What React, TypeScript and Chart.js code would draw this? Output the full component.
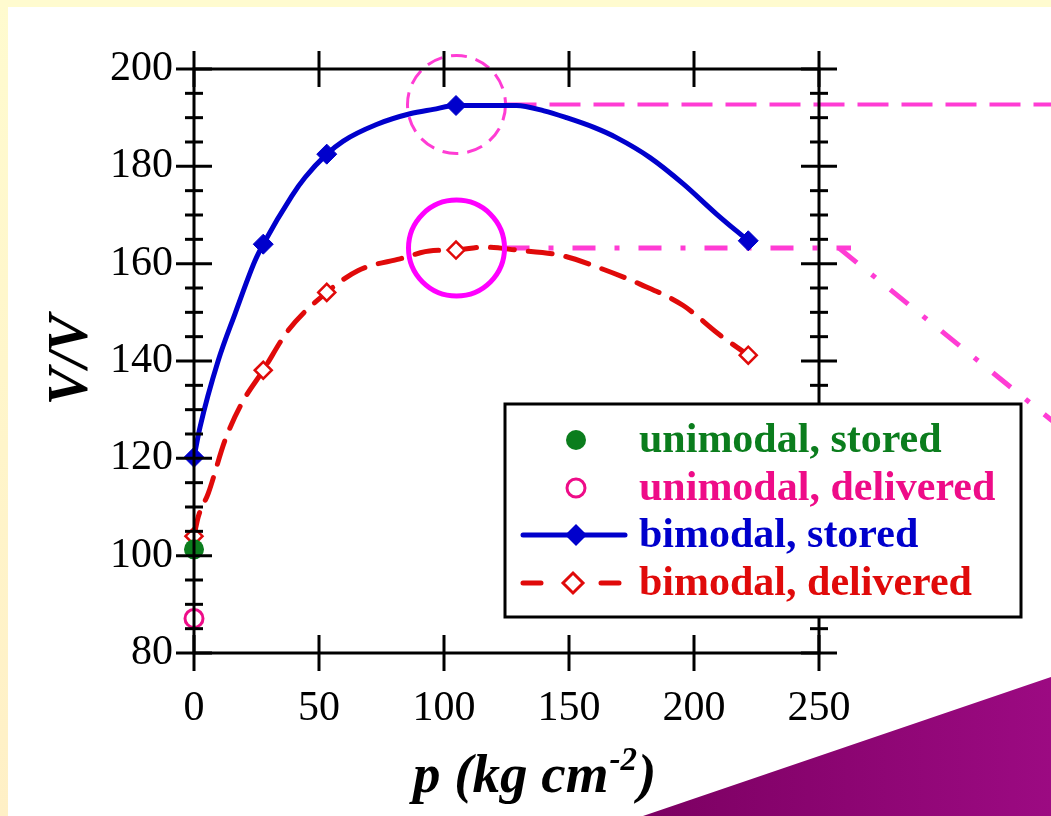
import { useEffect, useRef } from "react";
import { Chart, registerables } from "chart.js";

Chart.register(...registerables);

// ---- data ----
const xTickValues = [0, 50, 100, 150, 200, 250];
const yTickValues = [80, 100, 120, 140, 160, 180, 200];
const yMinorStep = 5;

const uniStoredP = [0];
const uniStoredV = [101.3];

const uniDeliveredP = [0];
const uniDeliveredV = [87.1];

const biStoredP = [0, 2.4, 9.7, 16.4, 24.4, 27.7, 39.1, 44.4, 53.1, 59.7, 73, 86.4, 95.7, 104.8, 129, 140, 149, 160, 169, 182.4, 195.7, 209, 221.7];
const biStoredV = [120.2, 126.4, 140.1, 149.7, 160.6, 164.0, 173.9, 177.7, 182.5, 185.2, 188.6, 190.8, 191.7, 192.5, 192.5, 191.4, 190.0, 188.0, 185.9, 181.8, 176.4, 170.2, 164.7];
const biStoredMarked = [0, 5, 8, 13, 22];

const biDeliveredP = [0, 1.7, 5.7, 12.4, 19, 27.7, 37.7, 53.1, 65.7, 82.4, 95.7, 104.8, 115.7, 129, 147.7, 159.7, 178.4, 195.7, 209.7, 221.7];
const biDeliveredV = [104.0, 108, 112.8, 123.7, 131.2, 138.1, 146.3, 154.1, 158.6, 161, 162.7, 162.8, 163.4, 162.8, 161.6, 159.6, 155.8, 151.4, 145.6, 141.2];
const biDeliveredMarked = [0, 5, 7, 11, 19];

// annotation anchors (data units)
const peakP = 105;
const storedPeakV = 192.7;
const deliveredPeakV = 163.2;
const diagStartP = 258;
const diagEndP = 345;
const diagEndV = 127;

const legendLabels = ["unimodal, stored", "unimodal, delivered", "bimodal, stored", "bimodal, delivered"];

// ---- styles ----
const GREEN = "#0b7d1d";
const PINK = "#ee0c88";
const BLUE = "#0000cc";
const RED = "#e00a0a";
const MAGENTA_DASH = "#ff3cd4";
const MAGENTA = "#ff00ff";
const SERIF = '"Liberation Serif", "Times New Roman", serif';

const pts = (xs: number[], ys: number[]) => xs.map((x, i) => ({ x, y: ys[i] }));

const backgroundPlugin = {
  id: "slideBackground",
  beforeDraw(chart: any) {
    const { ctx, width, height } = chart;
    ctx.save();
    ctx.fillStyle = "#ffffff";
    ctx.fillRect(0, 0, width, height);
    const g = ctx.createLinearGradient(0, 0, 0, height);
    g.addColorStop(0, "#fffbcf");
    g.addColorStop(1, "#fff0c6");
    ctx.fillStyle = g;
    ctx.fillRect(0, 0, 8, height);
    ctx.fillStyle = "#fffbcf";
    ctx.fillRect(0, 0, width, 7);
    // purple corner
    const pg = ctx.createLinearGradient(643, 0, width, 0);
    pg.addColorStop(0, "#7c0062");
    pg.addColorStop(1, "#9c0a82");
    ctx.fillStyle = pg;
    ctx.beginPath();
    ctx.moveTo(643, height);
    ctx.lineTo(width, 677);
    ctx.lineTo(width, height);
    ctx.closePath();
    ctx.fill();
    ctx.restore();
  },
};

const annotationPlugin = {
  id: "magentaNotes",
  beforeDatasetsDraw(chart: any) {
    const { ctx, width } = chart;
    const xs = chart.scales.x;
    const ys = chart.scales.y;
    const cx = xs.getPixelForValue(peakP);
    const cyTop = ys.getPixelForValue(storedPeakV);
    const cyBot = ys.getPixelForValue(deliveredPeakV);
    ctx.save();
    // dashed circle around stored peak
    ctx.strokeStyle = MAGENTA_DASH;
    ctx.lineWidth = 3;
    ctx.setLineDash([16, 9]);
    ctx.beginPath();
    ctx.arc(cx, cyTop, 49, 0, Math.PI * 2);
    ctx.stroke();
    // dashed line to the right
    ctx.lineWidth = 4;
    ctx.setLineDash([31, 13]);
    ctx.beginPath();
    ctx.moveTo(cx + 49, cyTop);
    ctx.lineTo(width, cyTop);
    ctx.stroke();
    // dash-dot line from delivered peak
    ctx.lineWidth = 5;
    ctx.setLineDash([23, 19, 5, 19]);
    ctx.beginPath();
    ctx.moveTo(cx + 50, cyBot);
    ctx.lineTo(xs.getPixelForValue(diagStartP) + 12, cyBot);
    ctx.stroke();
    ctx.beginPath();
    ctx.moveTo(xs.getPixelForValue(diagStartP), cyBot);
    ctx.lineTo(xs.getPixelForValue(diagEndP), ys.getPixelForValue(diagEndV));
    ctx.stroke();
    ctx.restore();
  },
  afterDatasetsDraw(chart: any) {
    const { ctx } = chart;
    const xs = chart.scales.x;
    const ys = chart.scales.y;
    ctx.save();
    ctx.strokeStyle = MAGENTA;
    ctx.lineWidth = 5;
    ctx.beginPath();
    ctx.arc(xs.getPixelForValue(peakP), ys.getPixelForValue(deliveredPeakV), 48, 0, Math.PI * 2);
    ctx.stroke();
    ctx.restore();
  },
};

const framePlugin = {
  id: "frameTicks",
  afterDatasetsDraw(chart: any) {
    const { ctx, chartArea: ca } = chart;
    const xs = chart.scales.x;
    const ys = chart.scales.y;
    const line = (x1: number, y1: number, x2: number, y2: number) => {
      ctx.beginPath();
      ctx.moveTo(x1, y1);
      ctx.lineTo(x2, y2);
      ctx.stroke();
    };
    ctx.save();
    ctx.strokeStyle = "#000";
    ctx.lineWidth = 3;
    ctx.lineCap = "butt";
    ctx.strokeRect(ca.left, ca.top, ca.right - ca.left, ca.bottom - ca.top);
    const major = 18;
    const minor = 9;
    xTickValues.forEach((v) => {
      const px = xs.getPixelForValue(v);
      line(px, ca.top - major, px, ca.top + major);
      line(px, ca.bottom - major, px, ca.bottom + major);
    });
    yTickValues.forEach((v) => {
      const py = ys.getPixelForValue(v);
      line(ca.left - major, py, ca.left + major, py);
      line(ca.right - major, py, ca.right + major, py);
    });
    const yMin = yTickValues[0];
    const yMax = yTickValues[yTickValues.length - 1];
    for (let v = yMin + yMinorStep; v < yMax; v += yMinorStep) {
      if (yTickValues.includes(v)) continue;
      const py = ys.getPixelForValue(v);
      line(ca.left - minor, py, ca.left + minor, py);
      line(ca.right - minor, py, ca.right + minor, py);
    }
    ctx.restore();
  },
  afterDraw(chart: any) {
    const { ctx } = chart;
    ctx.save();
    // axis titles
    ctx.fillStyle = "#000";
    ctx.textBaseline = "alphabetic";
    ctx.textAlign = "left";
    ctx.font = `italic bold 55px ${SERIF}`;
    let x = 413;
    const base = 792;
    const part1 = "p (kg cm";
    ctx.fillText(part1, x, base);
    x += ctx.measureText(part1).width;
    ctx.font = `italic bold 33px ${SERIF}`;
    ctx.fillText("-2", x + 1, base - 22);
    x += ctx.measureText("-2").width + 2;
    ctx.font = `italic bold 55px ${SERIF}`;
    ctx.fillText(")", x, base);

    ctx.save();
    ctx.translate(87, 360);
    ctx.rotate(-Math.PI / 2);
    ctx.textAlign = "center";
    ctx.font = `italic bold 56px ${SERIF}`;
    ctx.fillText("V/V", 0, 0);
    ctx.restore();

    // legend
    const L = 505, T = 404, R = 1021, B = 617;
    ctx.fillStyle = "#fff";
    ctx.fillRect(L, T, R - L, B - T);
    ctx.strokeStyle = "#000";
    ctx.lineWidth = 3;
    ctx.strokeRect(L, T, R - L, B - T);
    const rows = [440, 488, 535, 583];
    const colors = [GREEN, PINK, BLUE, RED];
    const mx = 576;
    // row 1 filled circle
    ctx.fillStyle = GREEN;
    ctx.beginPath();
    ctx.arc(mx, rows[0], 10, 0, Math.PI * 2);
    ctx.fill();
    // row 2 hollow circle
    ctx.strokeStyle = PINK;
    ctx.lineWidth = 3;
    ctx.beginPath();
    ctx.arc(mx, rows[1], 9, 0, Math.PI * 2);
    ctx.stroke();
    // row 3 solid line + filled diamond
    ctx.strokeStyle = BLUE;
    ctx.lineWidth = 5;
    ctx.lineCap = "round";
    ctx.beginPath();
    ctx.moveTo(523, rows[2]);
    ctx.lineTo(625, rows[2]);
    ctx.stroke();
    ctx.fillStyle = BLUE;
    ctx.beginPath();
    ctx.moveTo(mx, rows[2] - 11);
    ctx.lineTo(mx + 11, rows[2]);
    ctx.lineTo(mx, rows[2] + 11);
    ctx.lineTo(mx - 11, rows[2]);
    ctx.closePath();
    ctx.fill();
    // row 4 dashed line + hollow diamond
    ctx.strokeStyle = RED;
    ctx.beginPath();
    ctx.moveTo(523, rows[3]);
    ctx.lineTo(541, rows[3]);
    ctx.moveTo(601, rows[3]);
    ctx.lineTo(619, rows[3]);
    ctx.stroke();
    ctx.lineWidth = 3;
    ctx.lineCap = "butt";
    ctx.fillStyle = "#fff";
    ctx.beginPath();
    ctx.moveTo(mx - 3, rows[3] - 10);
    ctx.lineTo(mx - 3 + 10, rows[3]);
    ctx.lineTo(mx - 3, rows[3] + 10);
    ctx.lineTo(mx - 3 - 10, rows[3]);
    ctx.closePath();
    ctx.fill();
    ctx.stroke();
    // texts
    ctx.font = `bold 42px ${SERIF}`;
    ctx.textAlign = "left";
    ctx.textBaseline = "alphabetic";
    legendLabels.forEach((t, i) => {
      ctx.fillStyle = colors[i];
      ctx.fillText(t, 639, rows[i] + 12);
    });
    ctx.restore();
  },
};

export default function App() {
  const ref = useRef<HTMLCanvasElement | null>(null);

  useEffect(() => {
    const canvas = ref.current;
    if (!canvas) return;
    const chart = new Chart(canvas, {
      type: "line",
      data: {
        datasets: [
          {
            label: legendLabels[0],
            data: pts(uniStoredP, uniStoredV),
            showLine: false,
            pointStyle: "circle",
            pointRadius: 10,
            pointBackgroundColor: GREEN,
            pointBorderColor: GREEN,
            pointBorderWidth: 0,
            clip: false,
          } as any,
          {
            label: legendLabels[1],
            data: pts(uniDeliveredP, uniDeliveredV),
            showLine: false,
            pointStyle: "circle",
            pointRadius: 9,
            pointBackgroundColor: "rgba(255,255,255,0)",
            pointBorderColor: PINK,
            pointBorderWidth: 3,
            clip: false,
          } as any,
          {
            label: legendLabels[2],
            data: pts(biStoredP, biStoredV),
            borderColor: BLUE,
            borderWidth: 5,
            cubicInterpolationMode: "monotone",
            borderJoinStyle: "round",
            pointStyle: "rectRot",
            pointRadius: (c: any) => (biStoredMarked.includes(c.dataIndex) ? 10 : 0),
            pointBackgroundColor: BLUE,
            pointBorderColor: BLUE,
            pointBorderWidth: 1,
            clip: false,
          } as any,
          {
            label: legendLabels[3],
            data: pts(biDeliveredP, biDeliveredV),
            borderColor: RED,
            borderWidth: 5,
            borderDash: [24, 14],
            borderCapStyle: "round",
            cubicInterpolationMode: "monotone",
            pointStyle: "rectRot",
            pointRadius: (c: any) => (biDeliveredMarked.includes(c.dataIndex) ? 8.5 : 0),
            pointBackgroundColor: "#ffffff",
            pointBorderColor: RED,
            pointBorderWidth: 2.5,
            clip: false,
          } as any,
        ],
      },
      options: {
        animation: false,
        responsive: false,
        devicePixelRatio: 1,
        events: [],
        layout: { padding: { left: 0, top: 69, right: 232, bottom: 0 } },
        plugins: { legend: { display: false }, tooltip: { enabled: false } },
        scales: {
          x: {
            type: "linear",
            min: xTickValues[0],
            max: xTickValues[xTickValues.length - 1],
            afterBuildTicks: (s: any) => {
              s.ticks = xTickValues.map((v) => ({ value: v }));
            },
            afterFit: (s: any) => {
              s.height = 163;
            },
            grid: { display: false, drawTicks: true, tickLength: 18 },
            border: { display: false },
            ticks: {
              color: "#000",
              padding: 13,
              maxRotation: 0,
              font: { family: SERIF, size: 42 },
            },
          },
          y: {
            type: "linear",
            min: yTickValues[0],
            max: yTickValues[yTickValues.length - 1],
            afterBuildTicks: (s: any) => {
              s.ticks = yTickValues.map((v) => ({ value: v }));
            },
            afterFit: (s: any) => {
              s.width = 194;
            },
            grid: { display: false, drawTicks: true, tickLength: 18 },
            border: { display: false },
            ticks: {
              color: "#000",
              padding: 3,
              font: { family: SERIF, size: 42 },
            },
          },
        },
      } as any,
      plugins: [backgroundPlugin, annotationPlugin, framePlugin],
    });
    return () => chart.destroy();
  }, []);

  return (
    <div style={{ position: "fixed", left: 0, top: 0, width: 1051, height: 816, background: "#fff", overflow: "hidden" }}>
      <canvas ref={ref} width={1051} height={816} style={{ display: "block", width: 1051, height: 816 }} />
    </div>
  );
}
